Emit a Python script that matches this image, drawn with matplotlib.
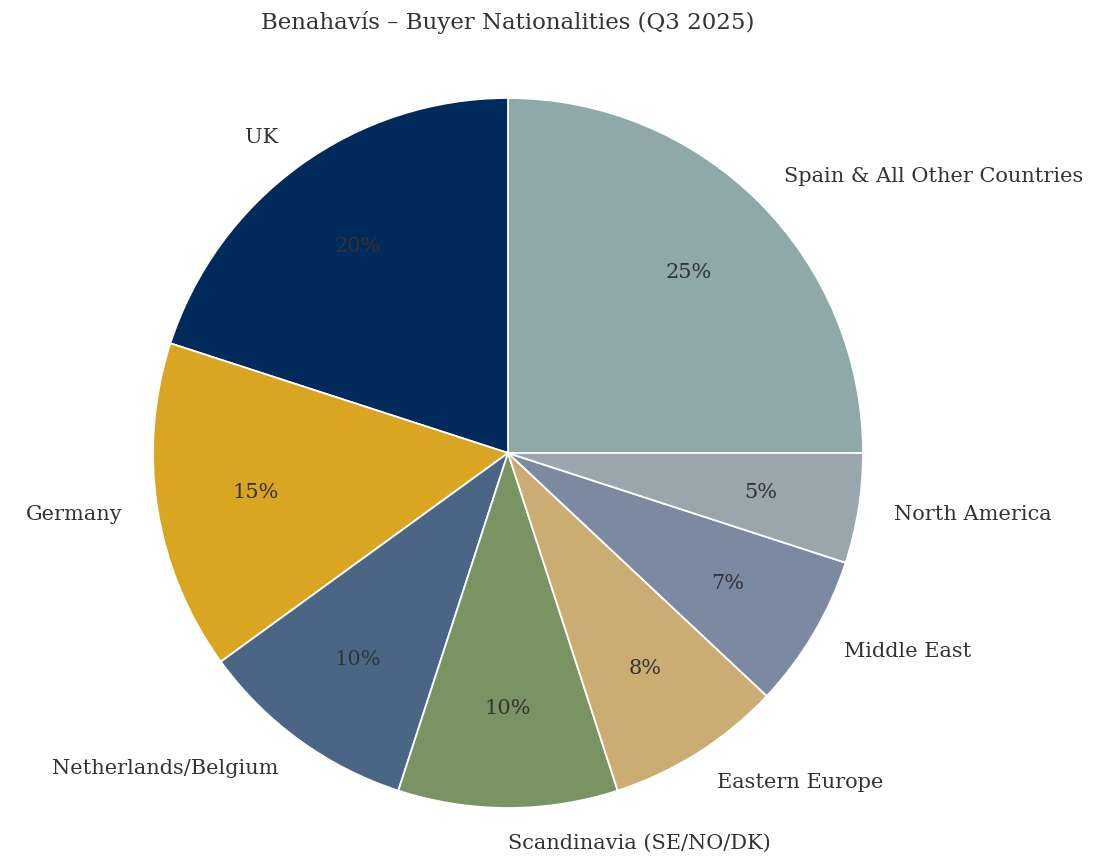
import matplotlib
matplotlib.use("Agg")
import matplotlib.pyplot as plt

labels = ["Spain & All Other Countries", "UK", "Germany", "Netherlands/Belgium",
          "Scandinavia (SE/NO/DK)", "Eastern Europe", "Middle East", "North America"]
shares = [25, 20, 15, 10, 10, 8, 7, 5]
colors = ["#8FA8A8", "#002A5C", "#DAA520", "#4A6586",
          "#7A9363", "#CBAC72", "#7B89A1", "#9AA6AD"]
title = "Benahavís – Buyer Nationalities (Q3 2025)"

plt.rcParams["font.family"] = ["DejaVu Serif"]
text_color = "#333333"

fig = plt.figure(figsize=(11, 8.66), dpi=100)
ax = fig.add_axes([0, 0, 1, 1])

ax.pie(shares, labels=labels, colors=colors, startangle=0, counterclock=True,
       autopct="%1.0f%%", pctdistance=0.72, labeldistance=1.1,
       wedgeprops=dict(edgecolor="white", linewidth=1.3),
       textprops=dict(color=text_color, fontsize=15))

R = 355.0
cx, cy = 508.0, 453.0
ax.set_xlim(-cx / R, (1100 - cx) / R)
ax.set_ylim(-(866 - cy) / R, cy / R)
ax.set_aspect("auto")
ax.axis("off")

fig.text(508 / 1100, 1 - 22 / 866, title, ha="center", va="center",
         fontsize=16.5, color=text_color)

fig.savefig("out.png", dpi=100, facecolor="white")
